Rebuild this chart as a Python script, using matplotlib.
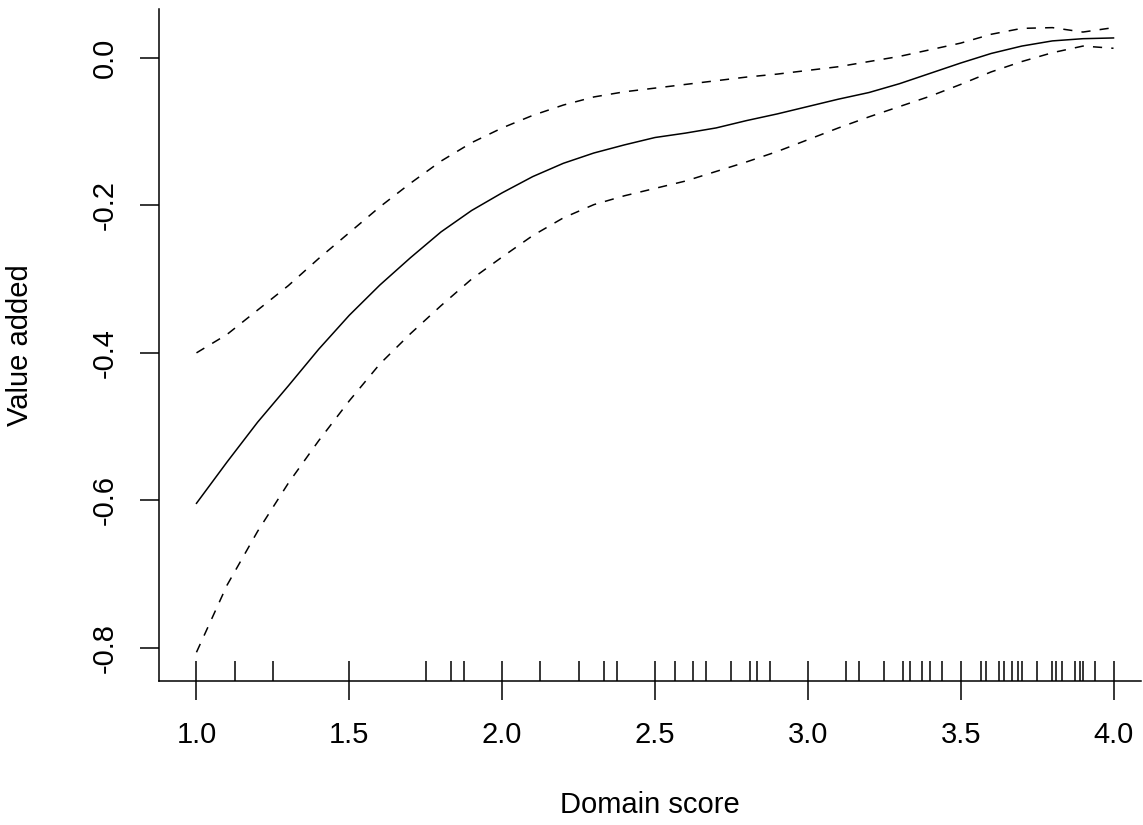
import numpy as np
import matplotlib
matplotlib.use('Agg')
import matplotlib.pyplot as plt

plt.rcParams['font.family'] = ['Liberation Sans', 'DejaVu Sans']

# smooth term of domain score
score = [1.0, 1.1, 1.2, 1.3, 1.4, 1.5, 1.6, 1.7, 1.8, 1.9, 2.0,
         2.1, 2.2, 2.3, 2.4, 2.5, 2.6, 2.7, 2.8, 2.9, 3.0,
         3.1, 3.2, 3.3, 3.4, 3.5, 3.6, 3.7, 3.8, 3.9, 4.0]
fit = [-0.604, -0.548, -0.494, -0.445, -0.395, -0.349, -0.308, -0.271, -0.236, -0.207, -0.183,
       -0.161, -0.143, -0.129, -0.118, -0.108, -0.102, -0.095, -0.085, -0.076, -0.066,
       -0.056, -0.047, -0.035, -0.021, -0.007, 0.006, 0.016, 0.023, 0.026, 0.027]
upper = [-0.400, -0.375, -0.342, -0.309, -0.272, -0.237, -0.202, -0.170, -0.140, -0.115, -0.095,
         -0.078, -0.064, -0.053, -0.046, -0.041, -0.036, -0.031, -0.026, -0.022, -0.017,
         -0.012, -0.005, 0.002, 0.011, 0.020, 0.032, 0.040, 0.041, 0.035, 0.041]
lower = [-0.806, -0.715, -0.642, -0.577, -0.519, -0.465, -0.415, -0.374, -0.336, -0.300, -0.270,
         -0.241, -0.217, -0.199, -0.187, -0.177, -0.167, -0.154, -0.141, -0.127, -0.111,
         -0.095, -0.080, -0.066, -0.052, -0.036, -0.019, -0.005, 0.007, 0.016, 0.013]

# observed scores (rug)
rug = [1.0, 1.125, 1.25, 1.5, 1.75, 1.833, 1.875, 2.0, 2.125, 2.25, 2.333, 2.375,
       2.5, 2.567, 2.625, 2.667, 2.75, 2.812, 2.833, 2.875, 3.0, 3.125, 3.167,
       3.25, 3.312, 3.333, 3.375, 3.4, 3.438, 3.5, 3.567, 3.583, 3.625, 3.643,
       3.667, 3.688, 3.7, 3.75, 3.8, 3.812, 3.833, 3.875, 3.889, 3.9, 3.938, 4.0]

xticks = [1.0, 1.5, 2.0, 2.5, 3.0, 3.5, 4.0]
yticks = [-0.8, -0.6, -0.4, -0.2, 0.0]

fig = plt.figure(figsize=(11.43, 8.25), dpi=100)
ax = fig.add_axes([0.139, 0.1745, 0.859, 0.814])

ax.plot(score, fit, color='black', lw=1.1)
ax.plot(score, upper, color='black', lw=1.1, dashes=(6, 6))
ax.plot(score, lower, color='black', lw=1.1, dashes=(6, 6))

ax.vlines(rug, 0, 0.03, transform=ax.get_xaxis_transform(), color='black', lw=1.1)

ax.set_xlim(0.877, 4.089)
ax.set_ylim(-0.845, 0.0656)

ax.spines['top'].set_visible(False)
ax.spines['right'].set_visible(False)
ax.spines['left'].set_linewidth(1.1)
ax.spines['bottom'].set_linewidth(1.1)

ax.set_xticks(xticks)
ax.set_xticklabels([f'{v:.1f}' for v in xticks])
ax.set_yticks(yticks)
ax.set_yticklabels([f'{v:.1f}' for v in yticks], rotation=90, va='center')
ax.tick_params(axis='both', direction='out', length=14, width=1.1, labelsize=21, colors='black')
ax.tick_params(axis='x', pad=15)
ax.tick_params(axis='y', pad=15)

ax.set_xlabel('Domain score', fontsize=21)
ax.xaxis.label.set_va('center')
ax.xaxis.set_label_coords(0.5, -0.185)
ax.set_ylabel('Value added', fontsize=21)
ax.yaxis.label.set_va('center')
ax.yaxis.set_label_coords(-0.1415, 0.5)

fig.savefig('out.png', dpi=100)
